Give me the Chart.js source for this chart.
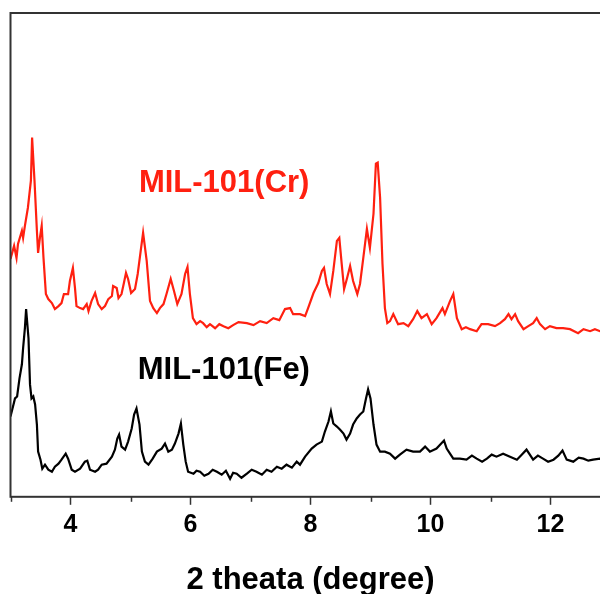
<!DOCTYPE html>
<html lang="en">
<head>
<meta charset="UTF-8">
<title>MIL-101 XRD</title>
<script src="https://cdn.jsdelivr.net/npm/chart.js@4"></script>
<style>
  html, body { margin: 0; padding: 0; background: #fff; overflow: hidden; }
  #wrap { width: 600px; height: 594px; overflow: hidden; }
</style>
</head>
<body>
<div id="wrap"><canvas id="xrd" width="620" height="594"></canvas></div>
<script>
// 2 theta (degree) and intensity (a.u., offset stacked)
const crTheta = [3.0, 3.06, 3.10, 3.125, 3.19, 3.21, 3.24, 3.29, 3.34, 3.36, 3.40, 3.44, 3.46, 3.49, 3.52, 3.55, 3.59, 3.63, 3.69, 3.74, 3.80, 3.85, 3.89, 3.96, 3.99, 4.04, 4.075, 4.10, 4.16, 4.21, 4.27, 4.30, 4.35, 4.41, 4.46, 4.52, 4.575, 4.63, 4.69, 4.71, 4.77, 4.80, 4.85, 4.89, 4.925, 4.96, 5.01, 5.075, 5.12, 5.17, 5.21, 5.27, 5.325, 5.38, 5.44, 5.49, 5.55, 5.60, 5.67, 5.725, 5.78, 5.85, 5.91, 5.95, 5.99, 6.04, 6.10, 6.16, 6.21, 6.27, 6.325, 6.41, 6.48, 6.55, 6.63, 6.71, 6.80, 6.94, 7.05, 7.16, 7.27, 7.38, 7.48, 7.575, 7.66, 7.71, 7.825, 7.91, 7.96, 8.05, 8.13, 8.19, 8.225, 8.27, 8.325, 8.38, 8.44, 8.48, 8.52, 8.56, 8.61, 8.66, 8.71, 8.78, 8.825, 8.88, 8.94, 8.99, 9.05, 9.09, 9.12, 9.16, 9.20, 9.24, 9.28, 9.325, 9.38, 9.46, 9.55, 9.63, 9.71, 9.78, 9.85, 9.94, 10.02, 10.10, 10.20, 10.24, 10.325, 10.38, 10.44, 10.52, 10.59, 10.66, 10.77, 10.85, 10.96, 11.075, 11.16, 11.24, 11.30, 11.35, 11.41, 11.46, 11.55, 11.63, 11.71, 11.77, 11.825, 11.91, 11.99, 12.10, 12.21, 12.325, 12.46, 12.55, 12.66, 12.74, 12.825, 13.0];
const crCounts = [237, 250, 238, 252, 265, 258, 270, 288, 315, 358, 315, 265, 243, 258, 270, 238, 202, 197, 193, 187, 190, 193, 202, 202, 215, 228, 208, 190, 188, 187, 192, 185, 195, 203, 192, 187, 190, 197, 200, 210, 208, 198, 202, 213, 223, 217, 203, 207, 222, 245, 263, 235, 195, 188, 183, 188, 192, 202, 217, 205, 192, 202, 222, 229, 202, 178, 172, 175, 173, 169, 172, 168, 172, 170, 168, 171, 174, 173, 171, 175, 173, 178, 176, 187, 188, 182, 182, 180, 188, 203, 213, 225, 228, 212, 202, 225, 255, 258, 232, 207, 218, 230, 215, 202, 212, 238, 267, 248, 282, 332, 333, 298, 232, 188, 173, 175, 182, 172, 173, 170, 177, 185, 178, 182, 172, 178, 188, 182, 195, 202, 178, 167, 169, 167, 165, 172, 172, 170, 173, 177, 182, 177, 182, 175, 167, 170, 173, 178, 172, 167, 170, 168, 168, 167, 163, 167, 165, 167, 165, 166];

const feTheta = [3.0, 3.05, 3.075, 3.11, 3.15, 3.19, 3.21, 3.24, 3.26, 3.30, 3.325, 3.35, 3.38, 3.41, 3.44, 3.46, 3.50, 3.53, 3.575, 3.63, 3.69, 3.74, 3.80, 3.85, 3.92, 3.96, 4.02, 4.075, 4.16, 4.24, 4.28, 4.325, 4.41, 4.46, 4.52, 4.60, 4.69, 4.74, 4.78, 4.81, 4.85, 4.91, 4.96, 5.02, 5.06, 5.10, 5.15, 5.19, 5.24, 5.30, 5.37, 5.44, 5.52, 5.575, 5.63, 5.69, 5.74, 5.80, 5.84, 5.88, 5.92, 5.96, 6.05, 6.10, 6.16, 6.23, 6.30, 6.37, 6.44, 6.52, 6.59, 6.66, 6.71, 6.77, 6.85, 6.94, 7.02, 7.10, 7.19, 7.27, 7.35, 7.44, 7.52, 7.60, 7.69, 7.77, 7.825, 7.91, 8.02, 8.10, 8.19, 8.24, 8.30, 8.34, 8.38, 8.44, 8.49, 8.55, 8.60, 8.66, 8.71, 8.77, 8.825, 8.88, 8.925, 8.96, 9.00, 9.05, 9.10, 9.16, 9.24, 9.325, 9.41, 9.49, 9.60, 9.71, 9.825, 9.91, 9.99, 10.10, 10.225, 10.27, 10.325, 10.38, 10.49, 10.60, 10.69, 10.77, 10.86, 10.94, 11.02, 11.10, 11.21, 11.325, 11.44, 11.52, 11.60, 11.71, 11.79, 11.875, 11.96, 12.05, 12.13, 12.20, 12.27, 12.38, 12.47, 12.55, 12.63, 12.71, 12.825, 13.0];
const feCounts = [80, 92, 98, 100, 118, 132, 148, 168, 187, 158, 112, 98, 100, 92, 72, 45, 37, 28, 32, 27, 25, 30, 33, 37, 43, 38, 27, 25, 28, 35, 36, 27, 25, 27, 32, 33, 40, 47, 58, 62, 50, 47, 55, 68, 82, 88, 72, 45, 35, 32, 38, 45, 48, 53, 45, 47, 53, 63, 73, 52, 35, 25, 23, 26, 25, 21, 23, 27, 25, 22, 26, 18, 24, 23, 19, 23, 27, 25, 22, 27, 25, 30, 28, 32, 29, 35, 32, 40, 48, 52, 55, 65, 75, 85, 73, 70, 67, 63, 57, 63, 72, 78, 82, 85, 98, 107, 98, 72, 52, 45, 45, 43, 38, 42, 47, 45, 45, 50, 45, 48, 56, 48, 43, 38, 38, 37, 41, 38, 35, 38, 42, 40, 43, 40, 37, 42, 47, 37, 41, 38, 35, 37, 41, 46, 37, 35, 39, 38, 36, 37, 38, 37];

const xTicks = [4, 6, 8, 10, 12];

const crLabel = { text: 'MIL-101(Cr)', theta: 5.14, counts: 312, color: '#ff2010' };
const feLabel = { text: 'MIL-101(Fe)', theta: 5.12, counts: 126, color: '#000000' };

const FONT = "'Liberation Sans', Arial, sans-serif";

const toXY = (xs, ys) => xs.map((x, i) => ({ x: x, y: ys[i] }));

const framePlugin = {
    id: 'frame',
    afterDraw(chart) {
        const ctx = chart.ctx;
        const a = chart.chartArea;
        const xs = chart.scales.x;
        const ys = chart.scales.y;
        ctx.save();
        ctx.strokeStyle = '#333';
        ctx.lineWidth = 2;
        ctx.strokeRect(a.left, a.top, a.right - a.left, a.bottom - a.top);
        // minor ticks on the odd degrees
        ctx.lineWidth = 1.5;
        for (let v = 3; v <= 13; v += 2) {
            const px = Math.round(xs.getPixelForValue(v)) + 0.5;
            ctx.beginPath();
            ctx.moveTo(px, a.bottom);
            ctx.lineTo(px, a.bottom + 5);
            ctx.stroke();
        }
        ctx.font = 'bold 31px ' + FONT;
        ctx.textBaseline = 'middle';
        ctx.textAlign = 'left';
        [crLabel, feLabel].forEach(l => {
            ctx.fillStyle = l.color;
            ctx.fillText(l.text, xs.getPixelForValue(l.theta), ys.getPixelForValue(l.counts));
        });
        ctx.restore();
    }
};

new Chart(document.getElementById('xrd'), {
    type: 'line',
    data: {
        datasets: [{
            label: 'MIL-101(Cr)',
            data: toXY(crTheta, crCounts),
            borderColor: '#ff2010',
            borderWidth: 2.2,
            pointRadius: 0,
            tension: 0
        }, {
            label: 'MIL-101(Fe)',
            data: toXY(feTheta, feCounts),
            borderColor: '#000000',
            borderWidth: 2.2,
            pointRadius: 0,
            tension: 0
        }]
    },
    options: {
        responsive: false,
        animation: false,
        devicePixelRatio: 1,
        layout: { padding: { left: 10.5, top: 13, right: 9.5, bottom: -5 } },
        plugins: { legend: { display: false }, tooltip: { enabled: false } },
        scales: {
            x: {
                type: 'linear',
                min: 3,
                max: 13,
                afterBuildTicks: s => { s.ticks = []; for (let v = 3; v <= 13; v++) s.ticks.push({ value: v }); },
                ticks: {
                    callback: v => xTicks.includes(v) ? String(v) : '',
                    color: '#000',
                    font: { family: FONT, size: 25, weight: 'bold' },
                    padding: 5,
                    maxRotation: 0,
                    autoSkip: false
                },
                grid: {
                    drawOnChartArea: false,
                    drawTicks: true,
                    tickLength: 8,
                    tickWidth: 1.5,
                    tickColor: c => xTicks.includes(c.tick && c.tick.value) ? '#333' : 'rgba(0,0,0,0)'
                },
                border: { display: false },
                title: {
                    display: true,
                    text: '2 theata (degree)',
                    color: '#000',
                    font: { family: FONT, size: 31, weight: 'bold' },
                    padding: { top: 17, bottom: 0 }
                }
            },
            y: {
                display: false,
                min: 0,
                max: 482
            }
        }
    },
    plugins: [framePlugin]
});
</script>
</body>
</html>
